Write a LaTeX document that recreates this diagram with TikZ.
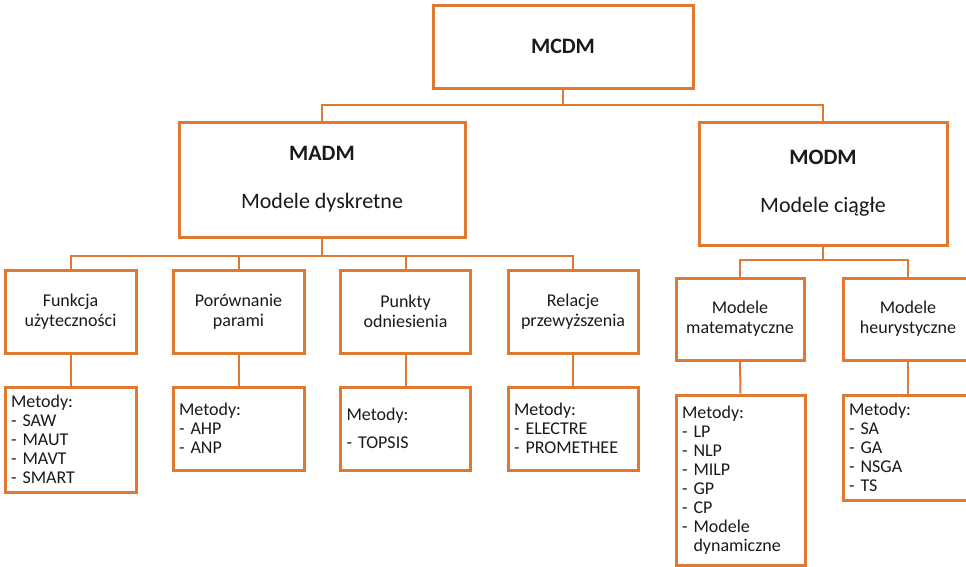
\documentclass[tikz,border=0pt]{standalone}
\usepackage{fontspec}
\setmainfont{Carlito}
\definecolor{orng}{HTML}{E07832}
\definecolor{txt}{HTML}{1A1A1A}
\begin{document}
\begin{tikzpicture}[x=1pt,y=-1pt,
  boxstyle/.style={draw=orng,line width=3pt,fill=white,rectangle,inner sep=0pt,text=txt},
  catbox/.style={boxstyle,align=center,font=\fontsize{18}{20}\selectfont},
  methbox/.style={boxstyle,align=left,inner xsep=6pt,font=\fontsize{18}{19}\selectfont},
  conn/.style={draw=orng,line width=2pt}]
\useasboundingbox (0,0) rectangle (966,566);

% level coordinates
\coordinate (lv1) at (0,105);
\coordinate (lv2) at (0,256);
\coordinate (lv3) at (0,260);

% top
\node[boxstyle,minimum width=260,minimum height=83,font=\fontsize{22}{24}\selectfont\bfseries] (mcdm) at (563,46.5) {MCDM};
\node[boxstyle,align=center,minimum width=286,minimum height=115,font=\fontsize{22}{48}\selectfont] (madm) at (322,179.5) {\textbf{MADM}\\Modele dyskretne};
\node[boxstyle,align=center,minimum width=248,minimum height=123,font=\fontsize{22}{48}\selectfont] (modm) at (823,183.5) {\textbf{MODM}\\Modele ciągłe};

% MADM children
\node[catbox,minimum width=131,minimum height=83] (f1) at (70.5,311.5) {Funkcja\\użyteczności};
\node[catbox,minimum width=131,minimum height=83] (f2) at (238.5,311.5) {Porównanie\\parami};
\node[catbox,minimum width=130,minimum height=83] (f3) at (405.5,311.5) {Punkty\\odniesienia};
\node[catbox,minimum width=130,minimum height=83] (f4) at (573,311.5) {Relacje\\przewyższenia};

\node[methbox,text width=119,minimum height=105] (m1) at (70.5,439.5) {Metody:\\- SAW\\- MAUT\\- MAVT\\- SMART};
\node[methbox,text width=119,minimum height=83] (m2) at (238.5,428.5) {Metody:\\- AHP\\- ANP};
\node[methbox,text width=118,minimum height=83] (m3) at (405.5,428.5) {Metody:\\[9pt]- TOPSIS};
\node[methbox,text width=118,minimum height=83] (m4) at (573,428.5) {Metody:\\- ELECTRE\\- PROMETHEE};

% MODM children
\node[catbox,minimum width=128,minimum height=82] (g1) at (740,319) {Modele\\matematyczne};
\node[catbox,minimum width=130,minimum height=82] (g2) at (908,319) {Modele\\heurystyczne};

\node[methbox,text width=117,minimum height=170] (n1) at (740.5,480) {Metody:\\- LP\\- NLP\\- MILP\\- GP\\- CP\\- Modele\\\hphantom{-\ }dynamiczne};
\node[methbox,text width=118,minimum height=105] (n2) at (908,447.5) {Metody:\\- SA\\- GA\\- NSGA\\- TS};

% connectors
\begin{scope}[on background layer/.style={}]
\draw[conn] (mcdm.south) -- (mcdm.south |- lv1);
\draw[conn] (madm.north) |- (modm.north |- lv1) -- (modm.north);

\draw[conn] (madm.south) -- (madm.south |- lv2);
\draw[conn] (f1.north) |- (f4.north |- lv2) -- (f4.north);
\draw[conn] (f2.north) -- (f2.north |- lv2);
\draw[conn] (f3.north) -- (f3.north |- lv2);

\draw[conn] (modm.south) -- (modm.south |- lv3);
\draw[conn] (g1.north) |- (g2.north |- lv3) -- (g2.north);

\draw[conn] (f1.south) -- (m1.north);
\draw[conn] (f2.south) -- (m2.north);
\draw[conn] (f3.south) -- (m3.north);
\draw[conn] (f4.south) -- (m4.north);
\draw[conn] (g1.south) -- (n1.north);
\draw[conn] (g2.south) -- (n2.north);
\end{scope}
\end{tikzpicture}
\end{document}
